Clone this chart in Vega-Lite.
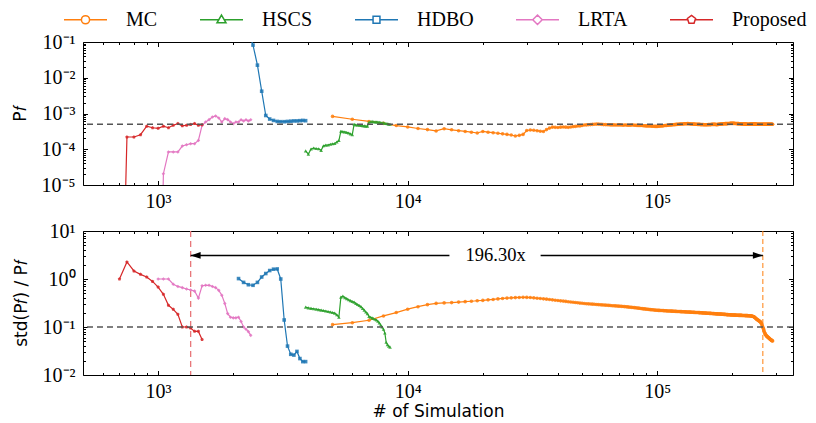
{
"$schema":"https://vega.github.io/schema/vega-lite/v6.json",
"background":"white",
"padding":{"left":10,"top":-3,"right":5,"bottom":5},
"bounds":"flush",
"spacing":46,
"config":{"view":{"stroke":"black","strokeWidth":1},
"axis":{"grid":false,"domain":false,"labelFont":"Liberation Serif","labelFontSize":20,"labelColor":"black","tickColor":"black","tickWidth":1,"titleFont":"DejaVu Sans","titleFontSize":17,"titleFontWeight":"normal","titleColor":"black","labelOverlap":false,"labelFlush":false}},
"resolve":{"scale":{"x":"shared","y":"independent","color":"shared"}},
"datasets":{"d":[
{"m":"Proposed","n":700,"p":1e-12,"s":1.0},
{"m":"Proposed","n":750,"p":2.2e-4,"s":2.26},
{"m":"Proposed","n":800,"p":2.2e-4,"s":1.47},
{"m":"Proposed","n":850,"p":2.55e-4,"s":1.25},
{"m":"Proposed","n":900,"p":4.4e-4,"s":1.1},
{"m":"Proposed","n":950,"p":4.0e-4,"s":0.89},
{"m":"Proposed","n":1000,"p":3.85e-4,"s":0.68},
{"m":"Proposed","n":1050,"p":4.4e-4,"s":0.48},
{"m":"Proposed","n":1100,"p":4.0e-4,"s":0.283},
{"m":"Proposed","n":1150,"p":4.7e-4,"s":0.233},
{"m":"Proposed","n":1200,"p":5.2e-4,"s":0.184},
{"m":"Proposed","n":1250,"p":4.5e-4,"s":0.1},
{"m":"Proposed","n":1300,"p":4.7e-4,"s":0.1},
{"m":"Proposed","n":1350,"p":4.9e-4,"s":0.095},
{"m":"Proposed","n":1400,"p":5.2e-4,"s":0.081},
{"m":"Proposed","n":1450,"p":4.7e-4,"s":0.081},
{"m":"Proposed","n":1500,"p":4.8e-4,"s":0.055},
{"m":"LRTA","n":1000,"p":1e-12,"s":1.0},
{"m":"LRTA","n":1050,"p":2.07e-5,"s":1.0},
{"m":"LRTA","n":1100,"p":8.4e-5,"s":1.0},
{"m":"LRTA","n":1150,"p":8.4e-5,"s":0.78},
{"m":"LRTA","n":1200,"p":8.4e-5,"s":0.7},
{"m":"LRTA","n":1250,"p":1.23e-4,"s":0.66},
{"m":"LRTA","n":1300,"p":1.34e-4,"s":0.62},
{"m":"LRTA","n":1350,"p":1.43e-4,"s":0.59},
{"m":"LRTA","n":1400,"p":1.43e-4,"s":0.56},
{"m":"LRTA","n":1450,"p":1.77e-4,"s":0.4},
{"m":"LRTA","n":1500,"p":4.67e-4,"s":0.72},
{"m":"LRTA","n":1550,"p":5.78e-4,"s":0.74},
{"m":"LRTA","n":1600,"p":6.73e-4,"s":0.74},
{"m":"LRTA","n":1650,"p":7.98e-4,"s":0.7},
{"m":"LRTA","n":1700,"p":8.5e-4,"s":0.66},
{"m":"LRTA","n":1750,"p":7.48e-4,"s":0.58},
{"m":"LRTA","n":1800,"p":5.78e-4,"s":0.46},
{"m":"LRTA","n":1850,"p":7.17e-4,"s":0.31},
{"m":"LRTA","n":1900,"p":6.73e-4,"s":0.19},
{"m":"LRTA","n":1950,"p":5.78e-4,"s":0.16},
{"m":"LRTA","n":2000,"p":5.2e-4,"s":0.155},
{"m":"LRTA","n":2050,"p":5.78e-4,"s":0.155},
{"m":"LRTA","n":2100,"p":5.78e-4,"s":0.16},
{"m":"LRTA","n":2150,"p":6.7e-4,"s":0.13},
{"m":"LRTA","n":2200,"p":6.17e-4,"s":0.1},
{"m":"LRTA","n":2250,"p":6.7e-4,"s":0.09},
{"m":"LRTA","n":2300,"p":6.17e-4,"s":0.08},
{"m":"LRTA","n":2350,"p":6.7e-4,"s":0.067},
{"m":"HDBO","n":2100,"p":0.4,"s":1.02},
{"m":"HDBO","n":2200,"p":0.3,"s":0.85},
{"m":"HDBO","n":2300,"p":0.2,"s":0.76},
{"m":"HDBO","n":2400,"p":0.082,"s":0.74},
{"m":"HDBO","n":2500,"p":0.0225,"s":0.85},
{"m":"HDBO","n":2600,"p":4.2e-3,"s":1.1},
{"m":"HDBO","n":2700,"p":8.8e-4,"s":1.3},
{"m":"HDBO","n":2800,"p":7.0e-4,"s":1.5},
{"m":"HDBO","n":2900,"p":6.4e-4,"s":1.6},
{"m":"HDBO","n":3000,"p":6.0e-4,"s":1.62},
{"m":"HDBO","n":3100,"p":5.9e-4,"s":1.0},
{"m":"HDBO","n":3200,"p":5.9e-4,"s":0.14},
{"m":"HDBO","n":3300,"p":6.0e-4,"s":0.04},
{"m":"HDBO","n":3400,"p":6.1e-4,"s":0.027},
{"m":"HDBO","n":3500,"p":6.2e-4,"s":0.026},
{"m":"HDBO","n":3600,"p":6.2e-4,"s":0.031},
{"m":"HDBO","n":3700,"p":6.3e-4,"s":0.022},
{"m":"HDBO","n":3800,"p":6.4e-4,"s":0.019},
{"m":"HDBO","n":3900,"p":6.3e-4,"s":0.019},
{"m":"HSCS","n":3900,"p":9.0e-5,"s":0.26},
{"m":"HSCS","n":4000,"p":7.3e-5,"s":0.25},
{"m":"HSCS","n":4100,"p":1.02e-4,"s":0.245},
{"m":"HSCS","n":4200,"p":1.08e-4,"s":0.24},
{"m":"HSCS","n":4300,"p":1.05e-4,"s":0.235},
{"m":"HSCS","n":4400,"p":1.03e-4,"s":0.23},
{"m":"HSCS","n":4500,"p":9.3e-5,"s":0.225},
{"m":"HSCS","n":4600,"p":1.25e-4,"s":0.22},
{"m":"HSCS","n":4700,"p":1.3e-4,"s":0.215},
{"m":"HSCS","n":4800,"p":1.32e-4,"s":0.21},
{"m":"HSCS","n":4900,"p":1.38e-4,"s":0.205},
{"m":"HSCS","n":5000,"p":1.42e-4,"s":0.2},
{"m":"HSCS","n":5100,"p":1.45e-4,"s":0.195},
{"m":"HSCS","n":5200,"p":1.6e-4,"s":0.18},
{"m":"HSCS","n":5300,"p":1.75e-4,"s":0.16},
{"m":"HSCS","n":5400,"p":3.2e-4,"s":0.42},
{"m":"HSCS","n":5500,"p":3.1e-4,"s":0.44},
{"m":"HSCS","n":5600,"p":3.05e-4,"s":0.41},
{"m":"HSCS","n":5700,"p":2.95e-4,"s":0.39},
{"m":"HSCS","n":5800,"p":2.85e-4,"s":0.37},
{"m":"HSCS","n":5900,"p":2.7e-4,"s":0.355},
{"m":"HSCS","n":6000,"p":2.55e-4,"s":0.34},
{"m":"HSCS","n":6100,"p":5.0e-4,"s":0.33},
{"m":"HSCS","n":6200,"p":4.8e-4,"s":0.31},
{"m":"HSCS","n":6300,"p":4.75e-4,"s":0.295},
{"m":"HSCS","n":6400,"p":4.7e-4,"s":0.28},
{"m":"HSCS","n":6500,"p":4.6e-4,"s":0.265},
{"m":"HSCS","n":6600,"p":4.55e-4,"s":0.245},
{"m":"HSCS","n":6700,"p":4.5e-4,"s":0.225},
{"m":"HSCS","n":6800,"p":4.45e-4,"s":0.205},
{"m":"HSCS","n":6900,"p":4.4e-4,"s":0.19},
{"m":"HSCS","n":7000,"p":5.8e-4,"s":0.165},
{"m":"HSCS","n":7100,"p":5.9e-4,"s":0.16},
{"m":"HSCS","n":7200,"p":6.0e-4,"s":0.155},
{"m":"HSCS","n":7300,"p":5.9e-4,"s":0.15},
{"m":"HSCS","n":7400,"p":5.85e-4,"s":0.145},
{"m":"HSCS","n":7500,"p":5.8e-4,"s":0.14},
{"m":"HSCS","n":7600,"p":5.75e-4,"s":0.132},
{"m":"HSCS","n":7700,"p":5.7e-4,"s":0.122},
{"m":"HSCS","n":7800,"p":5.6e-4,"s":0.11},
{"m":"HSCS","n":7900,"p":5.5e-4,"s":0.1},
{"m":"HSCS","n":8000,"p":5.45e-4,"s":0.09},
{"m":"HSCS","n":8100,"p":5.35e-4,"s":0.075},
{"m":"HSCS","n":8200,"p":5.25e-4,"s":0.048},
{"m":"HSCS","n":8300,"p":5.15e-4,"s":0.043},
{"m":"HSCS","n":8400,"p":5.05e-4,"s":0.04},
{"m":"HSCS","n":8500,"p":5.0e-4,"s":0.038},
{"m":"MC","n":5000,"p":8.3e-4,"s":0.112},
{"m":"MC","n":6000,"p":6.9e-4,"s":0.123},
{"m":"MC","n":7000,"p":6.0e-4,"s":0.138},
{"m":"MC","n":8000,"p":5.3e-4,"s":0.17},
{"m":"MC","n":9000,"p":4.6e-4,"s":0.2},
{"m":"MC","n":10000,"p":4.2e-4,"s":0.235},
{"m":"MC","n":11000,"p":3.8e-4,"s":0.265},
{"m":"MC","n":12000,"p":3.55e-4,"s":0.292},
{"m":"MC","n":13000,"p":3.25e-4,"s":0.31},
{"m":"MC","n":14000,"p":3.75e-4,"s":0.318},
{"m":"MC","n":15000,"p":3.5e-4,"s":0.322},
{"m":"MC","n":16000,"p":3.3e-4,"s":0.33},
{"m":"MC","n":17000,"p":3.15e-4,"s":0.337},
{"m":"MC","n":18000,"p":3.0e-4,"s":0.344},
{"m":"MC","n":19000,"p":2.85e-4,"s":0.352},
{"m":"MC","n":20000,"p":3.15e-4,"s":0.358},
{"m":"MC","n":21000,"p":3.0e-4,"s":0.368},
{"m":"MC","n":22000,"p":2.9e-4,"s":0.375},
{"m":"MC","n":23000,"p":2.8e-4,"s":0.385},
{"m":"MC","n":24000,"p":2.7e-4,"s":0.393},
{"m":"MC","n":25000,"p":2.6e-4,"s":0.4},
{"m":"MC","n":26000,"p":2.5e-4,"s":0.405},
{"m":"MC","n":27000,"p":2.35e-4,"s":0.41},
{"m":"MC","n":28000,"p":2.45e-4,"s":0.413},
{"m":"MC","n":29000,"p":2.6e-4,"s":0.415},
{"m":"MC","n":30000,"p":3.35e-4,"s":0.414},
{"m":"MC","n":31000,"p":3.45e-4,"s":0.411},
{"m":"MC","n":32000,"p":3.4e-4,"s":0.405},
{"m":"MC","n":33000,"p":3.3e-4,"s":0.398},
{"m":"MC","n":34000,"p":3.2e-4,"s":0.392},
{"m":"MC","n":35000,"p":3.15e-4,"s":0.386},
{"m":"MC","n":36000,"p":3.55e-4,"s":0.38},
{"m":"MC","n":37000,"p":3.9e-4,"s":0.374},
{"m":"MC","n":38000,"p":4.15e-4,"s":0.368},
{"m":"MC","n":39000,"p":4.1e-4,"s":0.362},
{"m":"MC","n":40000,"p":4.05e-4,"s":0.356},
{"m":"MC","n":41000,"p":4.15e-4,"s":0.351},
{"m":"MC","n":42000,"p":4.2e-4,"s":0.346},
{"m":"MC","n":43000,"p":4.15e-4,"s":0.341},
{"m":"MC","n":44000,"p":4.1e-4,"s":0.336},
{"m":"MC","n":45000,"p":4.2e-4,"s":0.331},
{"m":"MC","n":46000,"p":4.3e-4,"s":0.327},
{"m":"MC","n":47000,"p":4.35e-4,"s":0.323},
{"m":"MC","n":48000,"p":4.45e-4,"s":0.319},
{"m":"MC","n":49000,"p":4.5e-4,"s":0.315},
{"m":"MC","n":50000,"p":4.6e-4,"s":0.312},
{"m":"MC","n":51000,"p":4.75e-4,"s":0.309},
{"m":"MC","n":52000,"p":4.8e-4,"s":0.306},
{"m":"MC","n":53000,"p":4.85e-4,"s":0.304},
{"m":"MC","n":54000,"p":4.9e-4,"s":0.301},
{"m":"MC","n":55000,"p":4.95e-4,"s":0.299},
{"m":"MC","n":56000,"p":5.0e-4,"s":0.297},
{"m":"MC","n":57000,"p":5.05e-4,"s":0.295},
{"m":"MC","n":58000,"p":5.05e-4,"s":0.293},
{"m":"MC","n":59000,"p":5.0e-4,"s":0.291},
{"m":"MC","n":60000,"p":4.95e-4,"s":0.289},
{"m":"MC","n":61000,"p":4.9e-4,"s":0.287},
{"m":"MC","n":62000,"p":4.9e-4,"s":0.285},
{"m":"MC","n":63000,"p":4.85e-4,"s":0.283},
{"m":"MC","n":64000,"p":4.85e-4,"s":0.282},
{"m":"MC","n":65000,"p":4.8e-4,"s":0.28},
{"m":"MC","n":66000,"p":4.8e-4,"s":0.278},
{"m":"MC","n":67000,"p":4.8e-4,"s":0.277},
{"m":"MC","n":68000,"p":4.75e-4,"s":0.275},
{"m":"MC","n":69000,"p":4.75e-4,"s":0.274},
{"m":"MC","n":70000,"p":4.8e-4,"s":0.272},
{"m":"MC","n":71000,"p":4.8e-4,"s":0.27},
{"m":"MC","n":72000,"p":4.75e-4,"s":0.269},
{"m":"MC","n":73000,"p":4.7e-4,"s":0.267},
{"m":"MC","n":74000,"p":4.75e-4,"s":0.266},
{"m":"MC","n":75000,"p":4.75e-4,"s":0.264},
{"m":"MC","n":76000,"p":4.7e-4,"s":0.262},
{"m":"MC","n":77000,"p":4.7e-4,"s":0.26},
{"m":"MC","n":78000,"p":4.7e-4,"s":0.258},
{"m":"MC","n":79000,"p":4.75e-4,"s":0.257},
{"m":"MC","n":80000,"p":4.75e-4,"s":0.255},
{"m":"MC","n":81000,"p":4.7e-4,"s":0.253},
{"m":"MC","n":82000,"p":4.7e-4,"s":0.251},
{"m":"MC","n":83000,"p":4.65e-4,"s":0.249},
{"m":"MC","n":84000,"p":4.65e-4,"s":0.247},
{"m":"MC","n":85000,"p":4.6e-4,"s":0.245},
{"m":"MC","n":86000,"p":4.6e-4,"s":0.243},
{"m":"MC","n":87000,"p":4.6e-4,"s":0.241},
{"m":"MC","n":88000,"p":4.55e-4,"s":0.239},
{"m":"MC","n":89000,"p":4.55e-4,"s":0.238},
{"m":"MC","n":90000,"p":4.5e-4,"s":0.236},
{"m":"MC","n":91000,"p":4.5e-4,"s":0.235},
{"m":"MC","n":92000,"p":4.5e-4,"s":0.233},
{"m":"MC","n":93000,"p":4.45e-4,"s":0.232},
{"m":"MC","n":94000,"p":4.45e-4,"s":0.23},
{"m":"MC","n":95000,"p":4.4e-4,"s":0.229},
{"m":"MC","n":96000,"p":4.4e-4,"s":0.228},
{"m":"MC","n":97000,"p":4.4e-4,"s":0.226},
{"m":"MC","n":98000,"p":4.35e-4,"s":0.225},
{"m":"MC","n":99000,"p":4.35e-4,"s":0.224},
{"m":"MC","n":100000,"p":4.35e-4,"s":0.223},
{"m":"MC","n":101000,"p":4.4e-4,"s":0.222},
{"m":"MC","n":102000,"p":4.4e-4,"s":0.222},
{"m":"MC","n":103000,"p":4.45e-4,"s":0.221},
{"m":"MC","n":104000,"p":4.5e-4,"s":0.22},
{"m":"MC","n":105000,"p":4.5e-4,"s":0.22},
{"m":"MC","n":106000,"p":4.55e-4,"s":0.219},
{"m":"MC","n":107000,"p":4.6e-4,"s":0.218},
{"m":"MC","n":108000,"p":4.6e-4,"s":0.218},
{"m":"MC","n":109000,"p":4.65e-4,"s":0.217},
{"m":"MC","n":110000,"p":4.7e-4,"s":0.216},
{"m":"MC","n":111000,"p":4.7e-4,"s":0.216},
{"m":"MC","n":112000,"p":4.75e-4,"s":0.215},
{"m":"MC","n":113000,"p":4.8e-4,"s":0.215},
{"m":"MC","n":114000,"p":4.8e-4,"s":0.214},
{"m":"MC","n":115000,"p":4.85e-4,"s":0.214},
{"m":"MC","n":116000,"p":4.85e-4,"s":0.213},
{"m":"MC","n":117000,"p":4.9e-4,"s":0.213},
{"m":"MC","n":118000,"p":4.9e-4,"s":0.212},
{"m":"MC","n":119000,"p":4.95e-4,"s":0.212},
{"m":"MC","n":120000,"p":4.95e-4,"s":0.211},
{"m":"MC","n":121000,"p":5.0e-4,"s":0.211},
{"m":"MC","n":122000,"p":5.0e-4,"s":0.21},
{"m":"MC","n":123000,"p":5.05e-4,"s":0.21},
{"m":"MC","n":124000,"p":5.05e-4,"s":0.209},
{"m":"MC","n":125000,"p":5.1e-4,"s":0.209},
{"m":"MC","n":126000,"p":5.1e-4,"s":0.208},
{"m":"MC","n":127000,"p":5.1e-4,"s":0.208},
{"m":"MC","n":128000,"p":5.15e-4,"s":0.208},
{"m":"MC","n":129000,"p":5.15e-4,"s":0.207},
{"m":"MC","n":130000,"p":5.15e-4,"s":0.207},
{"m":"MC","n":131000,"p":5.15e-4,"s":0.206},
{"m":"MC","n":132000,"p":5.2e-4,"s":0.206},
{"m":"MC","n":133000,"p":5.2e-4,"s":0.205},
{"m":"MC","n":134000,"p":5.15e-4,"s":0.205},
{"m":"MC","n":135000,"p":5.15e-4,"s":0.204},
{"m":"MC","n":136000,"p":5.1e-4,"s":0.204},
{"m":"MC","n":137000,"p":5.1e-4,"s":0.203},
{"m":"MC","n":138000,"p":5.1e-4,"s":0.203},
{"m":"MC","n":139000,"p":5.05e-4,"s":0.203},
{"m":"MC","n":140000,"p":5.05e-4,"s":0.202},
{"m":"MC","n":141000,"p":5.05e-4,"s":0.202},
{"m":"MC","n":142000,"p":5.0e-4,"s":0.201},
{"m":"MC","n":143000,"p":5.0e-4,"s":0.201},
{"m":"MC","n":144000,"p":5.0e-4,"s":0.2},
{"m":"MC","n":145000,"p":4.95e-4,"s":0.2},
{"m":"MC","n":146000,"p":4.95e-4,"s":0.2},
{"m":"MC","n":147000,"p":4.95e-4,"s":0.199},
{"m":"MC","n":148000,"p":4.95e-4,"s":0.199},
{"m":"MC","n":149000,"p":4.9e-4,"s":0.198},
{"m":"MC","n":150000,"p":4.9e-4,"s":0.198},
{"m":"MC","n":151000,"p":4.9e-4,"s":0.197},
{"m":"MC","n":152000,"p":4.9e-4,"s":0.197},
{"m":"MC","n":153000,"p":4.9e-4,"s":0.196},
{"m":"MC","n":154000,"p":4.85e-4,"s":0.196},
{"m":"MC","n":155000,"p":4.85e-4,"s":0.196},
{"m":"MC","n":156000,"p":4.85e-4,"s":0.195},
{"m":"MC","n":157000,"p":4.85e-4,"s":0.195},
{"m":"MC","n":158000,"p":4.85e-4,"s":0.194},
{"m":"MC","n":159000,"p":4.85e-4,"s":0.194},
{"m":"MC","n":160000,"p":4.9e-4,"s":0.193},
{"m":"MC","n":161000,"p":4.9e-4,"s":0.193},
{"m":"MC","n":162000,"p":4.9e-4,"s":0.192},
{"m":"MC","n":163000,"p":4.9e-4,"s":0.192},
{"m":"MC","n":164000,"p":4.9e-4,"s":0.192},
{"m":"MC","n":165000,"p":4.95e-4,"s":0.191},
{"m":"MC","n":166000,"p":4.95e-4,"s":0.191},
{"m":"MC","n":167000,"p":4.95e-4,"s":0.19},
{"m":"MC","n":168000,"p":4.95e-4,"s":0.19},
{"m":"MC","n":169000,"p":4.95e-4,"s":0.19},
{"m":"MC","n":170000,"p":4.95e-4,"s":0.189},
{"m":"MC","n":171000,"p":4.95e-4,"s":0.189},
{"m":"MC","n":172000,"p":4.9e-4,"s":0.188},
{"m":"MC","n":173000,"p":4.9e-4,"s":0.188},
{"m":"MC","n":174000,"p":4.9e-4,"s":0.188},
{"m":"MC","n":175000,"p":4.95e-4,"s":0.187},
{"m":"MC","n":176000,"p":4.95e-4,"s":0.187},
{"m":"MC","n":177000,"p":5.0e-4,"s":0.186},
{"m":"MC","n":178000,"p":5.0e-4,"s":0.186},
{"m":"MC","n":179000,"p":5.05e-4,"s":0.186},
{"m":"MC","n":180000,"p":5.05e-4,"s":0.185},
{"m":"MC","n":181000,"p":5.1e-4,"s":0.185},
{"m":"MC","n":182000,"p":5.1e-4,"s":0.184},
{"m":"MC","n":183000,"p":5.1e-4,"s":0.184},
{"m":"MC","n":184000,"p":5.15e-4,"s":0.184},
{"m":"MC","n":185000,"p":5.15e-4,"s":0.183},
{"m":"MC","n":186000,"p":5.15e-4,"s":0.183},
{"m":"MC","n":187000,"p":5.2e-4,"s":0.183},
{"m":"MC","n":188000,"p":5.2e-4,"s":0.182},
{"m":"MC","n":189000,"p":5.2e-4,"s":0.182},
{"m":"MC","n":190000,"p":5.2e-4,"s":0.181},
{"m":"MC","n":191000,"p":5.2e-4,"s":0.181},
{"m":"MC","n":192000,"p":5.25e-4,"s":0.181},
{"m":"MC","n":193000,"p":5.25e-4,"s":0.18},
{"m":"MC","n":194000,"p":5.25e-4,"s":0.18},
{"m":"MC","n":195000,"p":5.25e-4,"s":0.18},
{"m":"MC","n":196000,"p":5.3e-4,"s":0.179},
{"m":"MC","n":197000,"p":5.3e-4,"s":0.179},
{"m":"MC","n":198000,"p":5.3e-4,"s":0.179},
{"m":"MC","n":199000,"p":5.3e-4,"s":0.178},
{"m":"MC","n":200000,"p":5.3e-4,"s":0.178},
{"m":"MC","n":201000,"p":5.3e-4,"s":0.178},
{"m":"MC","n":202000,"p":5.3e-4,"s":0.178},
{"m":"MC","n":203000,"p":5.3e-4,"s":0.177},
{"m":"MC","n":204000,"p":5.3e-4,"s":0.177},
{"m":"MC","n":205000,"p":5.25e-4,"s":0.177},
{"m":"MC","n":206000,"p":5.25e-4,"s":0.177},
{"m":"MC","n":207000,"p":5.25e-4,"s":0.176},
{"m":"MC","n":208000,"p":5.25e-4,"s":0.176},
{"m":"MC","n":209000,"p":5.2e-4,"s":0.176},
{"m":"MC","n":210000,"p":5.2e-4,"s":0.176},
{"m":"MC","n":211000,"p":5.2e-4,"s":0.176},
{"m":"MC","n":212000,"p":5.2e-4,"s":0.175},
{"m":"MC","n":213000,"p":5.15e-4,"s":0.175},
{"m":"MC","n":214000,"p":5.15e-4,"s":0.175},
{"m":"MC","n":215000,"p":5.15e-4,"s":0.175},
{"m":"MC","n":216000,"p":5.15e-4,"s":0.175},
{"m":"MC","n":217000,"p":5.1e-4,"s":0.175},
{"m":"MC","n":218000,"p":5.1e-4,"s":0.175},
{"m":"MC","n":219000,"p":5.1e-4,"s":0.174},
{"m":"MC","n":220000,"p":5.1e-4,"s":0.174},
{"m":"MC","n":221000,"p":5.1e-4,"s":0.174},
{"m":"MC","n":222000,"p":5.1e-4,"s":0.174},
{"m":"MC","n":223000,"p":5.05e-4,"s":0.174},
{"m":"MC","n":224000,"p":5.05e-4,"s":0.174},
{"m":"MC","n":225000,"p":5.05e-4,"s":0.173},
{"m":"MC","n":226000,"p":5.05e-4,"s":0.173},
{"m":"MC","n":227000,"p":5.05e-4,"s":0.173},
{"m":"MC","n":228000,"p":5.05e-4,"s":0.173},
{"m":"MC","n":229000,"p":5.0e-4,"s":0.173},
{"m":"MC","n":230000,"p":5.0e-4,"s":0.173},
{"m":"MC","n":231000,"p":5.0e-4,"s":0.172},
{"m":"MC","n":232000,"p":5.0e-4,"s":0.172},
{"m":"MC","n":233000,"p":5.0e-4,"s":0.172},
{"m":"MC","n":234000,"p":5.0e-4,"s":0.172},
{"m":"MC","n":235000,"p":5.05e-4,"s":0.171},
{"m":"MC","n":236000,"p":5.05e-4,"s":0.171},
{"m":"MC","n":237000,"p":5.05e-4,"s":0.17},
{"m":"MC","n":238000,"p":5.05e-4,"s":0.17},
{"m":"MC","n":239000,"p":5.05e-4,"s":0.169},
{"m":"MC","n":240000,"p":5.05e-4,"s":0.168},
{"m":"MC","n":241000,"p":5.05e-4,"s":0.167},
{"m":"MC","n":242000,"p":5.05e-4,"s":0.166},
{"m":"MC","n":243000,"p":5.05e-4,"s":0.165},
{"m":"MC","n":244000,"p":5.05e-4,"s":0.163},
{"m":"MC","n":245000,"p":5.05e-4,"s":0.161},
{"m":"MC","n":246000,"p":5.05e-4,"s":0.158},
{"m":"MC","n":247000,"p":5.05e-4,"s":0.155},
{"m":"MC","n":248000,"p":5.05e-4,"s":0.152},
{"m":"MC","n":249000,"p":5.05e-4,"s":0.149},
{"m":"MC","n":250000,"p":5.0e-4,"s":0.146},
{"m":"MC","n":251000,"p":5.0e-4,"s":0.144},
{"m":"MC","n":252000,"p":5.0e-4,"s":0.142},
{"m":"MC","n":253000,"p":5.0e-4,"s":0.14},
{"m":"MC","n":254000,"p":5.0e-4,"s":0.138},
{"m":"MC","n":255000,"p":5.0e-4,"s":0.136},
{"m":"MC","n":256000,"p":5.0e-4,"s":0.134},
{"m":"MC","n":257000,"p":5.0e-4,"s":0.132},
{"m":"MC","n":258000,"p":5.0e-4,"s":0.13},
{"m":"MC","n":259000,"p":5.0e-4,"s":0.128},
{"m":"MC","n":260000,"p":5.0e-4,"s":0.125},
{"m":"MC","n":261000,"p":5.0e-4,"s":0.12},
{"m":"MC","n":262000,"p":5.0e-4,"s":0.115},
{"m":"MC","n":263000,"p":5.0e-4,"s":0.11},
{"m":"MC","n":264000,"p":5.0e-4,"s":0.105},
{"m":"MC","n":265000,"p":5.0e-4,"s":0.099},
{"m":"MC","n":266000,"p":5.0e-4,"s":0.094},
{"m":"MC","n":267000,"p":5.0e-4,"s":0.088},
{"m":"MC","n":268000,"p":5.0e-4,"s":0.083},
{"m":"MC","n":269000,"p":5.0e-4,"s":0.078},
{"m":"MC","n":270000,"p":5.0e-4,"s":0.074},
{"m":"MC","n":271000,"p":5.0e-4,"s":0.071},
{"m":"MC","n":272000,"p":5.0e-4,"s":0.069},
{"m":"MC","n":273000,"p":5.0e-4,"s":0.067},
{"m":"MC","n":274000,"p":5.0e-4,"s":0.065},
{"m":"MC","n":275000,"p":5.0e-4,"s":0.064},
{"m":"MC","n":276000,"p":5.0e-4,"s":0.063},
{"m":"MC","n":277000,"p":5.0e-4,"s":0.062},
{"m":"MC","n":278000,"p":5.0e-4,"s":0.061},
{"m":"MC","n":279000,"p":5.0e-4,"s":0.06},
{"m":"MC","n":280000,"p":5.0e-4,"s":0.059},
{"m":"MC","n":281000,"p":5.0e-4,"s":0.058},
{"m":"MC","n":282000,"p":5.0e-4,"s":0.057},
{"m":"MC","n":283000,"p":5.0e-4,"s":0.056},
{"m":"MC","n":284000,"p":5.0e-4,"s":0.055},
{"m":"MC","n":285000,"p":5.0e-4,"s":0.054},
{"m":"MC","n":286000,"p":5.0e-4,"s":0.054},
{"m":"MC","n":287000,"p":5.0e-4,"s":0.053},
{"m":"MC","n":288000,"p":5.0e-4,"s":0.052},
{"m":"MC","n":289000,"p":5.0e-4,"s":0.052},
{"m":"MC","n":290000,"p":5.0e-4,"s":0.051}
]},
"vconcat":[
{"width":710,"height":143,"data":{"name":"d"},
"resolve":{"axis":{"x":"independent","y":"independent"}},
"layer":[
{"mark":{"type":"line","strokeWidth":1.2,"clip":true},
"encoding":{
"x":{"field":"n","type":"quantitative","scale":{"type":"log","domain":[500,350000],"nice":false},"axis":{"orient":"bottom","values":[1000,10000,100000],"ticks":false,"labelPadding":6,"title":null,"labelExpr":"datum.value==1000?'10³':datum.value==10000?'10⁴':'10⁵'"}},
"y":{"field":"p","type":"quantitative","scale":{"type":"log","domain":[1e-5,0.1],"nice":false},"axis":{"orient":"left","values":[1e-5,1e-4,1e-3,1e-2,1e-1],"ticks":false,"labelPadding":8,"title":"P𝑓","titlePadding":12,"labelExpr":"datum.value<2e-5?'10⁻⁵':datum.value<2e-4?'10⁻⁴':datum.value<2e-3?'10⁻³':datum.value<2e-2?'10⁻²':'10⁻¹'"}},
"color":{"field":"m","type":"nominal","scale":{"domain":["MC","HSCS","HDBO","LRTA","Proposed"],"range":["#ff7f0e","#2ca02c","#1f77b4","#e377c2","#d62728"]},
"legend":{"orient":"none","legendX":-20,"legendY":-45,"direction":"horizontal","columns":5,"title":null,"symbolSize":1849,"symbolStrokeWidth":1.5,"labelFont":"Liberation Serif","labelFontSize":20,"labelColor":"black","labelOffset":18,"columnPadding":39,"labelLimit":300,
"encode":{"symbols":{"update":{
"shape":{"signal":"datum.value==='MC'?'M-1,0H-0.19M0.19,0H1M0.19,0A0.19,0.19,0,1,1,-0.19,0A0.19,0.19,0,1,1,0.19,0Z':datum.value==='HSCS'?'M-1,0H-0.128M0.128,0H1M0,-0.22L0.21,0.14L-0.21,0.14Z':datum.value==='HDBO'?'M-1,0H-0.16M0.16,0H1M-0.16,-0.16H0.16V0.16H-0.16Z':datum.value==='LRTA'?'M-1,0H-0.22M0.22,0H1M0,-0.22L0.22,0L0,0.22L-0.22,0Z':'M-1,0H-0.17M0.17,0H1M0,-0.2L0.19,-0.062L0.118,0.162L-0.118,0.162L-0.19,-0.062Z'"},
"fill":{"value":"white"},"fillOpacity":{"value":1},"opacity":{"value":1},"strokeWidth":{"value":1.5}}}}}}}},
{"transform":[{"filter":"datum.m==='MC'"}],"mark":{"type":"point","shape":"circle","filled":true,"size":13,"opacity":0.85,"color":"#ff7f0e","clip":true},
"encoding":{
"x":{"field":"n","type":"quantitative","axis":{"orient":"bottom","values":[1000,10000,100000],"labels":false,"tickSize":-4.5,"title":null}},
"y":{"field":"p","type":"quantitative","axis":{"orient":"left","values":[1e-5,1e-4,1e-3,1e-2,1e-1],"labels":false,"tickSize":-4.5,"title":null}}}},
{"transform":[{"filter":"datum.m==='HSCS'"}],"mark":{"type":"point","shape":"triangle-up","filled":true,"size":13,"opacity":0.85,"color":"#2ca02c","clip":true},
"encoding":{"x":{"field":"n","type":"quantitative","axis":null},"y":{"field":"p","type":"quantitative","axis":null}}},
{"transform":[{"filter":"datum.m==='HDBO'"}],"mark":{"type":"point","shape":"square","filled":true,"size":13,"opacity":0.85,"color":"#1f77b4","clip":true},
"encoding":{"x":{"field":"n","type":"quantitative","axis":null},"y":{"field":"p","type":"quantitative","axis":null}}},
{"transform":[{"filter":"datum.m==='LRTA'"}],"mark":{"type":"point","shape":"diamond","filled":true,"size":13,"opacity":0.85,"color":"#e377c2","clip":true},
"encoding":{"x":{"field":"n","type":"quantitative","axis":null},"y":{"field":"p","type":"quantitative","axis":null}}},
{"transform":[{"filter":"datum.m==='Proposed'"}],"mark":{"type":"point","shape":"M0,-1L0.951,-0.309L0.588,0.809L-0.588,0.809L-0.951,-0.309Z","filled":true,"size":13,"opacity":0.85,"color":"#d62728","clip":true},
"encoding":{"x":{"field":"n","type":"quantitative","axis":null},"y":{"field":"p","type":"quantitative","axis":null}}},
{"data":{"values":[{"n":1000,"p":0.001}]},"mark":{"type":"point","opacity":0},
"encoding":{
"x":{"field":"n","type":"quantitative","axis":{"orient":"top","values":[1000,10000,100000],"labels":false,"tickSize":-4.5,"title":null}},
"y":{"field":"p","type":"quantitative","axis":{"orient":"right","values":[1e-5,1e-4,1e-3,1e-2,1e-1],"labels":false,"tickSize":-4.5,"title":null}}}},
{"data":{"values":[{"n":1000,"p":0.001}]},"mark":{"type":"point","opacity":0},
"encoding":{
"x":{"field":"n","type":"quantitative","axis":{"orient":"bottom","values":[600,700,800,900,2000,3000,4000,5000,6000,7000,8000,9000,20000,30000,40000,50000,60000,70000,80000,90000,200000,300000],"labels":false,"tickSize":-2.5,"title":null}},
"y":{"field":"p","type":"quantitative","axis":{"orient":"left","values":[2e-5,3e-5,4e-5,5e-5,6e-5,7e-5,8e-5,9e-5,2e-4,3e-4,4e-4,5e-4,6e-4,7e-4,8e-4,9e-4,2e-3,3e-3,4e-3,5e-3,6e-3,7e-3,8e-3,9e-3,2e-2,3e-2,4e-2,5e-2,6e-2,7e-2,8e-2,9e-2],"labels":false,"tickSize":-2.5,"title":null}}}},
{"data":{"values":[{"n":1000,"p":0.001}]},"mark":{"type":"point","opacity":0},
"encoding":{
"x":{"field":"n","type":"quantitative","axis":{"orient":"top","values":[600,700,800,900,2000,3000,4000,5000,6000,7000,8000,9000,20000,30000,40000,50000,60000,70000,80000,90000,200000,300000],"labels":false,"tickSize":-2.5,"title":null}},
"y":{"field":"p","type":"quantitative","axis":{"orient":"right","values":[2e-5,3e-5,4e-5,5e-5,6e-5,7e-5,8e-5,9e-5,2e-4,3e-4,4e-4,5e-4,6e-4,7e-4,8e-4,9e-4,2e-3,3e-3,4e-3,5e-3,6e-3,7e-3,8e-3,9e-3,2e-2,3e-2,4e-2,5e-2,6e-2,7e-2,8e-2,9e-2],"labels":false,"tickSize":-2.5,"title":null}}}},
{"data":{"values":[{"r":5e-4}]},"mark":{"type":"rule","strokeDash":[6,4],"color":"#555555","strokeWidth":1.3},
"encoding":{"y":{"field":"r","type":"quantitative","axis":null}}}
]},
{"width":710,"height":144,"data":{"name":"d"},
"resolve":{"axis":{"x":"independent","y":"independent"}},
"layer":[
{"data":{"values":[{"v":1350}]},"mark":{"type":"rule","strokeDash":[6,4],"color":"#e8777a","strokeWidth":1.3},
"encoding":{"x":{"field":"v","type":"quantitative","axis":null}}},
{"data":{"values":[{"v":265000}]},"mark":{"type":"rule","strokeDash":[5,3],"color":"#ff7f0e","strokeWidth":1},
"encoding":{"x":{"field":"v","type":"quantitative","axis":null}}},
{"mark":{"type":"line","strokeWidth":1.2,"clip":true},
"encoding":{
"x":{"field":"n","type":"quantitative","scale":{"type":"log","domain":[500,350000],"nice":false},"axis":{"orient":"bottom","values":[1000,10000,100000],"ticks":false,"labelPadding":6,"title":"# of Simulation","titlePadding":2,"labelExpr":"datum.value==1000?'10³':datum.value==10000?'10⁴':'10⁵'"}},
"y":{"field":"s","type":"quantitative","scale":{"type":"log","domain":[0.01,10],"nice":false},"axis":{"orient":"left","values":[0.01,0.1,1,10],"ticks":false,"labelPadding":8,"title":"std(P𝑓) / P𝑓","titlePadding":12,"labelExpr":"datum.value<0.02?'10⁻²':datum.value<0.2?'10⁻¹':datum.value<2?'10⁰':'10¹'"}},
"color":{"field":"m","type":"nominal","legend":null}}},
{"transform":[{"filter":"datum.m==='MC'"}],"mark":{"type":"point","shape":"circle","filled":true,"size":13,"opacity":0.85,"color":"#ff7f0e","clip":true},
"encoding":{
"x":{"field":"n","type":"quantitative","axis":{"orient":"bottom","values":[1000,10000,100000],"labels":false,"tickSize":-4.5,"title":null}},
"y":{"field":"s","type":"quantitative","axis":{"orient":"left","values":[0.01,0.1,1,10],"labels":false,"tickSize":-4.5,"title":null}}}},
{"transform":[{"filter":"datum.m==='HSCS'"}],"mark":{"type":"point","shape":"triangle-up","filled":true,"size":13,"opacity":0.85,"color":"#2ca02c","clip":true},
"encoding":{"x":{"field":"n","type":"quantitative","axis":null},"y":{"field":"s","type":"quantitative","axis":null}}},
{"transform":[{"filter":"datum.m==='HDBO'"}],"mark":{"type":"point","shape":"square","filled":true,"size":13,"opacity":0.85,"color":"#1f77b4","clip":true},
"encoding":{"x":{"field":"n","type":"quantitative","axis":null},"y":{"field":"s","type":"quantitative","axis":null}}},
{"transform":[{"filter":"datum.m==='LRTA'"}],"mark":{"type":"point","shape":"diamond","filled":true,"size":13,"opacity":0.85,"color":"#e377c2","clip":true},
"encoding":{"x":{"field":"n","type":"quantitative","axis":null},"y":{"field":"s","type":"quantitative","axis":null}}},
{"transform":[{"filter":"datum.m==='Proposed'"}],"mark":{"type":"point","shape":"M0,-1L0.951,-0.309L0.588,0.809L-0.588,0.809L-0.951,-0.309Z","filled":true,"size":13,"opacity":0.85,"color":"#d62728","clip":true},
"encoding":{"x":{"field":"n","type":"quantitative","axis":null},"y":{"field":"s","type":"quantitative","axis":null}}},
{"data":{"values":[{"n":1000,"s":0.1}]},"mark":{"type":"point","opacity":0},
"encoding":{
"x":{"field":"n","type":"quantitative","axis":{"orient":"top","values":[1000,10000,100000],"labels":false,"tickSize":-4.5,"title":null}},
"y":{"field":"s","type":"quantitative","axis":{"orient":"right","values":[0.01,0.1,1,10],"labels":false,"tickSize":-4.5,"title":null}}}},
{"data":{"values":[{"n":1000,"s":0.1}]},"mark":{"type":"point","opacity":0},
"encoding":{
"x":{"field":"n","type":"quantitative","axis":{"orient":"bottom","values":[600,700,800,900,2000,3000,4000,5000,6000,7000,8000,9000,20000,30000,40000,50000,60000,70000,80000,90000,200000,300000],"labels":false,"tickSize":-2.5,"title":null}},
"y":{"field":"s","type":"quantitative","axis":{"orient":"left","values":[0.02,0.03,0.04,0.05,0.06,0.07,0.08,0.09,0.2,0.3,0.4,0.5,0.6,0.7,0.8,0.9,2,3,4,5,6,7,8,9],"labels":false,"tickSize":-2.5,"title":null}}}},
{"data":{"values":[{"n":1000,"s":0.1}]},"mark":{"type":"point","opacity":0},
"encoding":{
"x":{"field":"n","type":"quantitative","axis":{"orient":"top","values":[600,700,800,900,2000,3000,4000,5000,6000,7000,8000,9000,20000,30000,40000,50000,60000,70000,80000,90000,200000,300000],"labels":false,"tickSize":-2.5,"title":null}},
"y":{"field":"s","type":"quantitative","axis":{"orient":"right","values":[0.02,0.03,0.04,0.05,0.06,0.07,0.08,0.09,0.2,0.3,0.4,0.5,0.6,0.7,0.8,0.9,2,3,4,5,6,7,8,9],"labels":false,"tickSize":-2.5,"title":null}}}},
{"data":{"values":[{"r":0.1}]},"mark":{"type":"rule","strokeDash":[6,4],"color":"#555555","strokeWidth":1.3},
"encoding":{"y":{"field":"r","type":"quantitative","axis":null}}},
{"data":{"values":[{"a":1350,"b":14700,"y":3.1},{"a":34100,"b":265000,"y":3.1}]},"mark":{"type":"rule","color":"black","strokeWidth":1.5},
"encoding":{"x":{"field":"a","type":"quantitative","axis":null},"x2":{"field":"b"},"y":{"field":"y","type":"quantitative","axis":null}}},
{"data":{"values":[{"x":1350,"y":3.1}]},"mark":{"type":"point","shape":"M0,0L2,-0.66L2,0.66Z","filled":true,"color":"black","opacity":1,"size":100},
"encoding":{"x":{"field":"x","type":"quantitative","axis":null},"y":{"field":"y","type":"quantitative","axis":null}}},
{"data":{"values":[{"x":265000,"y":3.1}]},"mark":{"type":"point","shape":"M0,0L-2,-0.66L-2,0.66Z","filled":true,"color":"black","opacity":1,"size":100},
"encoding":{"x":{"field":"x","type":"quantitative","axis":null},"y":{"field":"y","type":"quantitative","axis":null}}},
{"data":{"values":[{"x":22500,"y":3.1,"t":"196.30x"}]},"mark":{"type":"text","font":"Liberation Serif","fontSize":18.5,"color":"black","baseline":"middle"},
"encoding":{"x":{"field":"x","type":"quantitative","axis":null},"y":{"field":"y","type":"quantitative","axis":null},"text":{"field":"t"}}}
]}
]
}
